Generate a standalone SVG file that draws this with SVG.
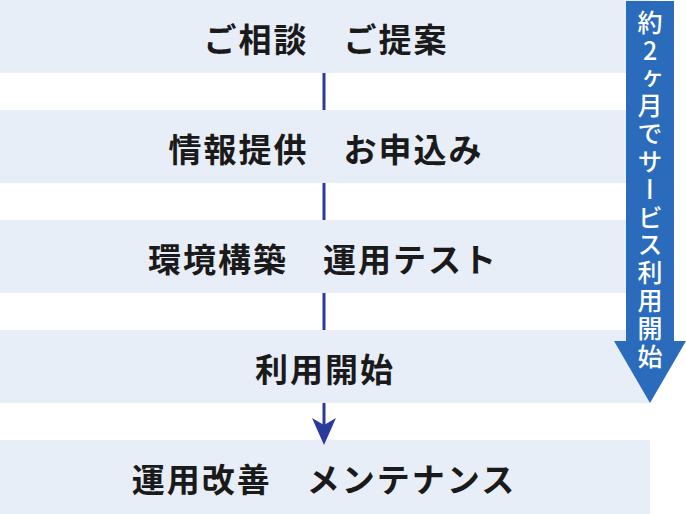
<svg xmlns="http://www.w3.org/2000/svg" width="686" height="514" viewBox="0 0 686 514">
<style>
.band{fill:#e8eef7}
.lbl{font-family:"Noto Sans CJK JP","Noto Sans",sans-serif;font-weight:bold;font-size:33px;letter-spacing:2px;fill:#1a1a1a;text-anchor:middle;dominant-baseline:central}
.conn{stroke:#2b3a9e;stroke-width:3;fill:none}
.vtxt{font-family:"Noto Sans CJK JP","Noto Sans",sans-serif;font-weight:500;font-size:25px;letter-spacing:2.8px;fill:#ffffff;writing-mode:vertical-rl;text-orientation:upright}
</style>
<rect width="686" height="514" fill="#ffffff"/>
<g id="step1"><rect class="band" x="0" y="0" width="650" height="73"/><text class="lbl" x="326" y="37.5">ご相談　ご提案</text></g>
<g id="step2"><rect class="band" x="0" y="110" width="650" height="73"/><text class="lbl" x="326" y="147.5">情報提供　お申込み</text></g>
<g id="step3"><rect class="band" x="0" y="220" width="650" height="73"/><text class="lbl" x="323" y="257.5">環境構築　運用テスト</text></g>
<g id="step4"><rect class="band" x="0" y="330" width="650" height="73"/><text class="lbl" x="325" y="367.5">利用開始</text></g>
<g id="step5"><rect class="band" x="0" y="440" width="650" height="74"/><text class="lbl" x="324" y="477.5">運用改善　メンテナンス</text></g>
<g id="connectors">
<line class="conn" x1="324" y1="73" x2="324" y2="110"/>
<line class="conn" x1="324" y1="183" x2="324" y2="220"/>
<line class="conn" x1="324" y1="293" x2="324" y2="330"/>
<line class="conn" x1="324" y1="403" x2="324" y2="426"/>
<polygon points="312,418 324,445 336,418 324,425" fill="#2b3a9e"/>
</g>
<g id="period">
<polygon points="626,1 674,1 674,341 686,341 650,403 614,341 626,341" fill="#2a6cbb"/>
<text class="vtxt" x="650" y="10">約2ヶ月でサービス利用開始</text>
</g>
</svg>
